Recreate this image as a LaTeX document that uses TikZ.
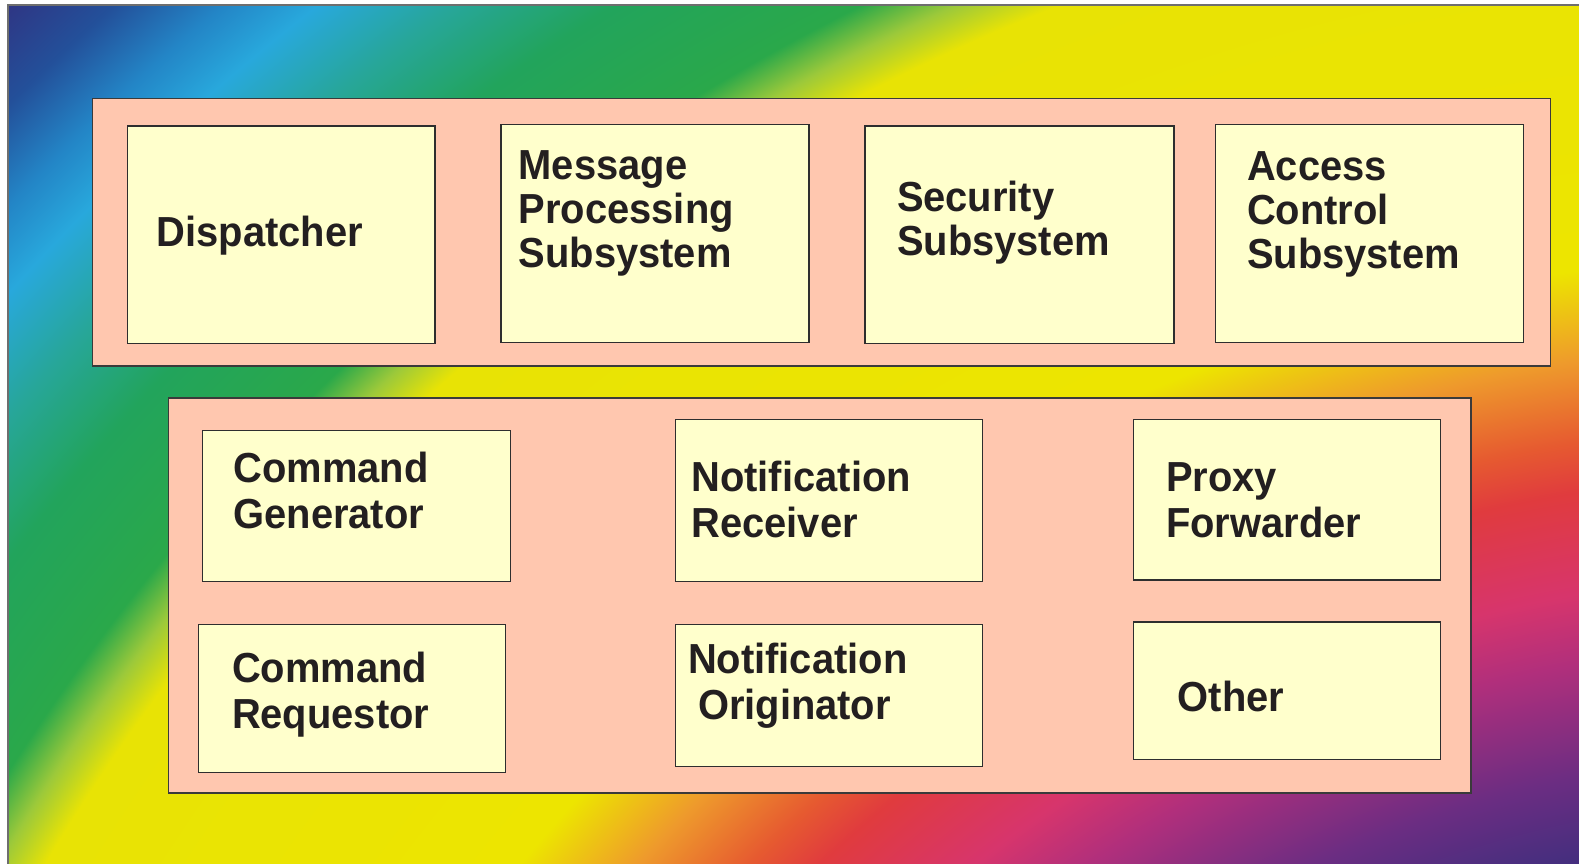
\documentclass[tikz,border=0pt]{standalone}
\usepackage{fontspec}
\setmainfont{Liberation Sans}[FakeStretch=0.95]

% palette
\definecolor{ink}{HTML}{231F20}
\definecolor{grpfill}{HTML}{FFC7AF}
\definecolor{grpline}{HTML}{3A3A3A}
\definecolor{boxfill}{HTML}{FFFFCC}
\definecolor{boxline}{HTML}{2E2E2E}
\definecolor{frameline}{HTML}{6E6E6E}

\definecolor{rbA}{HTML}{3A2C78}
\definecolor{rbB}{HTML}{432E7E}
\definecolor{rbC}{HTML}{6B2D82}
\definecolor{rbD}{HTML}{B02F7C}
\definecolor{rbE}{HTML}{D7356C}
\definecolor{rbF}{HTML}{E03B3E}
\definecolor{rbG}{HTML}{E65A30}
\definecolor{rbH}{HTML}{EE9A2C}
\definecolor{rbI}{HTML}{EDE500}
\definecolor{rbJ}{HTML}{E8E305}
\definecolor{rbK}{HTML}{9CC93A}
\definecolor{rbL}{HTML}{2AA84A}
\definecolor{rbM}{HTML}{22A45C}
\definecolor{rbN}{HTML}{27A69A}
\definecolor{rbO}{HTML}{28A8DC}
\definecolor{rbP}{HTML}{2385C6}
\definecolor{rbQ}{HTML}{23509A}
\definecolor{rbR}{HTML}{2E3785}

% concentric rainbow; the middle 25bp radius is stretched onto the shaded circle
\pgfdeclareradialshading{rainbowbg}{\pgfpoint{0bp}{0bp}}{%
  color(0bp)=(rbA); color(10.18bp)=(rbB); color(10.98bp)=(rbC);
  color(12.03bp)=(rbD); color(12.69bp)=(rbE); color(13.64bp)=(rbF);
  color(14.11bp)=(rbG); color(14.87bp)=(rbH); color(15.72bp)=(rbI);
  color(19.41bp)=(rbJ); color(19.79bp)=(rbK); color(20.17bp)=(rbL);
  color(21.31bp)=(rbM); color(22.16bp)=(rbN); color(22.92bp)=(rbO);
  color(23.48bp)=(rbP); color(24.15bp)=(rbQ); color(24.8bp)=(rbR);
  color(50bp)=(rbR)}

\tikzset{
  grp/.style={rectangle, draw=grpline, line width=1.4pt, fill=grpfill,
    inner sep=0pt, outer sep=0pt, anchor=north west},
  unit/.style={rectangle, draw=boxline, line width=1.2pt, fill=boxfill,
    inner sep=0pt, outer sep=0pt, anchor=north west},
  % multi-line labels are placed by the baseline of their last line
  lbl/.style={anchor=base west, align=left, inner sep=0pt, text=ink,
    font=\bfseries\fontsize{42}{44}\selectfont},
  lblwide/.style={lbl, font=\bfseries\fontsize{42}{45.5}\selectfont}
}

\begin{document}
\begin{tikzpicture}[x=1pt,y=-1pt]
  \useasboundingbox (0,0) rectangle (1579,864);
  \fill[white] (0,0) rectangle (1579,864);

  % rainbow backdrop
  \begin{scope}
    \clip (8,5) rectangle (1579,864);
    \shade[shading=rainbowbg] (1805,1915) circle (2640);
  \end{scope}
  \coordinate (fbl) at (8,864);
  \coordinate (ftl) at (8,5);
  \coordinate (ftr) at (1579,5);
  \draw[frameline, line width=1.6pt] (fbl) -- (ftl) -- (ftr);

  % upper group
  \node[grp, minimum width=1458pt, minimum height=267.3pt] (top) at (92.7,98.7) {};
  \node[unit, minimum width=307.7pt, minimum height=217.7pt] (disp) at (127.3,126) {};
  \node[unit, minimum width=308pt, minimum height=218pt] (mps) at (501,124.3) {};
  \node[unit, minimum width=309pt, minimum height=217.3pt] (sec) at (865,126) {};
  \node[unit, minimum width=308pt, minimum height=217.6pt] (acs) at (1215.3,124.7) {};

  \node[lbl] (disp-t) at (156.5,246) {Dispatcher};
  \node[lbl] (mps-t) at (518.5,267.3) {Message\\Processing\\Subsystem};
  \node[lbl] (sec-t) at (896.8,255.9) {Security\\Subsystem};
  \node[lbl] (acs-t) at (1246.8,268) {Access\\Control\\Subsystem};

  % lower group
  \node[grp, minimum width=1302.7pt, minimum height=395.2pt] (apps) at (168.3,397.8) {};
  \node[unit, minimum width=308pt, minimum height=151pt] (cg) at (202.7,430.7) {};
  \node[unit, minimum width=307.4pt, minimum height=162.4pt] (nr) at (675.3,419.3) {};
  \node[unit, minimum width=307.4pt, minimum height=160.7pt] (pf) at (1133.3,419.3) {};
  \node[unit, minimum width=307.4pt, minimum height=148.4pt] (cr) at (198.3,624.3) {};
  \node[unit, minimum width=307.4pt, minimum height=142.4pt] (no) at (675.3,624.3) {};
  \node[unit, minimum width=307.4pt, minimum height=137.7pt] (ot) at (1133.3,622) {};

  \node[lblwide] (cg-t) at (233.3,528.2) {Command\\Generator};
  \node[lblwide] (nr-t) at (691.2,537.3) {Notification\\Receiver};
  \node[lblwide] (pf-t) at (1166,537.3) {Proxy\\Forwarder};
  \node[lblwide] (cr-t) at (231.8,728.3) {Command\\Requestor};
  \node[lblwide] (no-t) at (687.8,719) {Notification\\\hspace*{10pt}Originator};
  \node[lblwide] (ot-t) at (1177.5,711) {Other};
\end{tikzpicture}
\end{document}
